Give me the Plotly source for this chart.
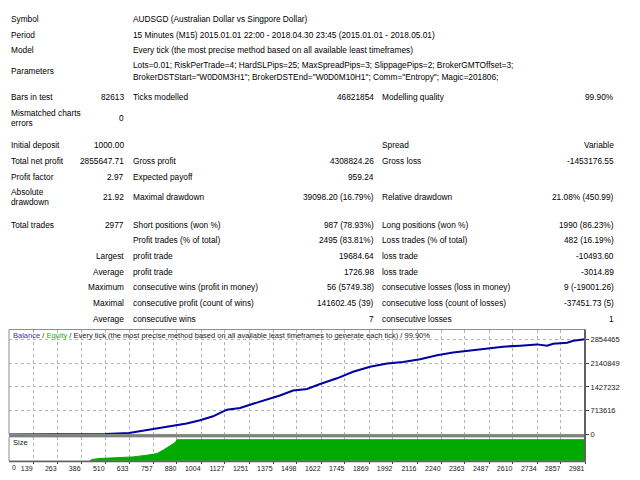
import plotly.graph_objects as go

# ---------------- data ----------------
symbol_text = "AUDSGD (Australian Dollar vs Singpore Dollar)"
period_text = "15 Minutes (M15) 2015.01.01 22:00 - 2018.04.30 23:45 (2015.01.01 - 2018.05.01)"
model_text = "Every tick (the most precise method based on all available least timeframes)"
param_line1 = "Lots=0.01; RiskPerTrade=4; HardSLPips=25; MaxSpreadPips=3; SlippagePips=2; BrokerGMTOffset=3;"
param_line2 = 'BrokerDSTStart="W0D0M3H1"; BrokerDSTEnd="W0D0M10H1"; Comm="Entropy"; Magic=201806;'

col0_labels = ["Bars in test", "", "Initial deposit", "Total net profit", "Profit factor", "",
               "Total trades", "", "Largest", "Average", "Maximum", "Maximal", "Average"]
col1_values = ["82613", "0", "1000.00", "2855647.71", "2.97", "21.92",
               "2977", "", "", "", "", "", ""]
col2_labels = ["Ticks modelled", "", "", "Gross profit", "Expected payoff", "Maximal drawdown",
               "Short positions (won %)", "Profit trades (% of total)", "profit trade", "profit trade",
               "consecutive wins (profit in money)", "consecutive profit (count of wins)", "consecutive wins"]
col2_values = ["46821854", "", "", "4308824.26", "959.24", "39098.20 (16.79%)",
               "987 (78.93%)", "2495 (83.81%)", "19684.64", "1726.98",
               "56 (5749.38)", "141602.45 (39)", "7"]
col3_labels = ["Modelling quality", "", "Spread", "Gross loss", "", "Relative drawdown",
               "Long positions (won %)", "Loss trades (% of total)", "loss trade", "loss trade",
               "consecutive losses (loss in money)", "consecutive loss (count of losses)", "consecutive losses"]
col3_values = ["99.90%", "", "Variable", "-1453176.55", "", "21.08% (450.99)",
               "1990 (86.23%)", "482 (16.19%)", "-10493.60", "-3014.89",
               "9 (-19001.26)", "-37451.73 (5)", "1"]

# balance curve (trade number, balance)
bal_trades = [15, 300, 510, 633, 741, 793, 860, 930, 999, 1066, 1137, 1205, 1272, 1343, 1410,
              1478, 1550, 1617, 1704, 1787, 1874, 1962, 2044, 2132, 2219, 2302, 2390, 2477,
              2559, 2647, 2734, 2786, 2817, 2889, 2921, 2981]
bal_values = [1000, 4000, 15000, 45000, 148670, 178404, 246792, 327074, 425196, 544132, 743350,
              793898, 921754, 1040690, 1168546, 1317216, 1367764, 1516434, 1685918, 1882162,
              2030832, 2131928, 2179502, 2259784, 2378720, 2459002, 2527390, 2577938, 2637406,
              2667140, 2705794, 2667140, 2726608, 2756342, 2815810, 2856648]

# position size (trade number, lots)
size_trades = [430, 442, 484, 586, 654, 725, 777, 808, 844, 870, 880, 2981]
size_lots = [0.5, 3.9, 6.2, 7.6, 9.9, 13.8, 17.7, 25.3, 34.6, 43.1, 50, 50]

x_tick_labels = ["0", "139", "263", "386", "510", "633", "757", "880", "1004", "1127", "1251",
                 "1375", "1498", "1622", "1745", "1869", "1992", "2116", "2240", "2363", "2487",
                 "2610", "2734", "2857", "2981"]
y_tick_values = [0, 713616, 1427232, 2140849, 2854465]

# ---------------- layout helpers ----------------
W, H = 640, 480
def X(px): return px / W
def Y(py): return 1 - py / H

FONT = "Liberation Sans, Arial, sans-serif"
FS = 8.3
TXT = "#000000"
SMALL = 7.5
TICK = 7.0

annotations = []
def txt(px, py, s, anchor="left", size=FS, color=TXT):
    annotations.append(dict(x=X(px), y=Y(py), xref="paper", yref="paper", text=s,
                            showarrow=False, xanchor=anchor, yanchor="middle",
                            font=dict(family=FONT, size=size, color=color)))

# header block
txt(9, 19.5, "Symbol"); txt(131, 19.5, symbol_text)
txt(9, 35, "Period"); txt(131, 35, period_text)
txt(9, 51, "Model"); txt(131, 51, model_text)
txt(9, 72, "Parameters"); txt(131, 66, param_line1); txt(131, 77.5, param_line2)
txt(9, 114, "Mismatched charts"); txt(9, 124.5, "errors")
txt(9, 194, "Absolute"); txt(9, 204.5, "drawdown")

row_y = [98, 119, 147, 163, 178.5, 199.5, 227, 242.5, 258.5, 274.5, 290.5, 306.5, 322.5]
for i, yy in enumerate(row_y):
    lab = col0_labels[i]
    if lab:
        if lab in ("Largest", "Average", "Maximum", "Maximal"):
            txt(126, yy, lab, "right")
        else:
            txt(9, yy, lab)
    if col1_values[i]:
        txt(126, yy, col1_values[i], "right")
    if col2_labels[i]:
        txt(131, yy, col2_labels[i])
    if col2_values[i]:
        txt(375.5, yy, col2_values[i], "right")
    if col3_labels[i]:
        txt(380, yy, col3_labels[i])
    if col3_values[i]:
        txt(616, yy, col3_values[i], "right")

# chart captions
txt(11, 339, "<span style='color:#3535B5'>Balance</span> / <span style='color:#22B022'>Equity</span>"
             " / Every tick (the most precise method based on all available least timeframes to generate each tick) / 99.90%",
    size=SMALL, color="#202020")
txt(11, 447.5, "Size", size=SMALL, color="#202020")
txt(10, 472, x_tick_labels[0], size=TICK, color="#202020")

# ---------------- figure ----------------
fig = go.Figure()
fig.add_trace(go.Scatter(x=bal_trades, y=bal_values, mode="lines", xaxis="x", yaxis="y",
                         line=dict(color="#0000A0", width=2), hoverinfo="skip"))
fig.add_trace(go.Scatter(x=size_trades, y=size_lots, mode="lines", xaxis="x2", yaxis="y2",
                         fill="tozeroy", fillcolor="#00AA00",
                         line=dict(color="#00AA00", width=1), hoverinfo="skip"))

x_tick_vals = [float(v) for v in x_tick_labels[1:]]
x_range = [15.1, 2981]
grid = dict(showgrid=True, griddash="dot", gridcolor="#B4B4B4", gridwidth=1)

shapes = [
    dict(type="rect", xref="paper", yref="paper", x0=X(9), x1=X(585), y0=Y(439), y1=Y(333),
         line=dict(color="#8C8C8C", width=1)),
    dict(type="rect", xref="paper", yref="paper", x0=X(9), x1=X(585), y0=Y(466), y1=Y(441.5),
         line=dict(color="#8C8C8C", width=1)),
    dict(type="rect", xref="paper", yref="paper", x0=X(9), x1=X(585), y0=Y(441.7), y1=Y(439.3),
         fillcolor="#808080", line=dict(width=0)),
    dict(type="line", xref="paper", yref="paper", x0=X(585), x1=X(585), y0=Y(466.5), y1=Y(333),
         line=dict(color="#606060", width=2)),
    dict(type="line", xref="paper", yref="paper", x0=X(9), x1=X(585.5), y0=Y(466.3), y1=Y(466.3),
         line=dict(color="#606060", width=1.5)),
]

fig.update_layout(
    width=W, height=H, margin=dict(l=0, r=0, t=0, b=0),
    paper_bgcolor="white", plot_bgcolor="white", showlegend=False,
    font=dict(family=FONT, size=FS, color=TXT),
    xaxis=dict(domain=[X(9), X(585)], range=x_range, anchor="y", tickvals=x_tick_vals,
               showticklabels=False, ticks="", zeroline=False, showline=False, **grid),
    yaxis=dict(domain=[Y(439), Y(333)], range=[0, 3152000], anchor="x", side="right",
               tickvals=y_tick_values, ticktext=[str(v) for v in y_tick_values],
               ticks="outside", ticklen=3, tickcolor="#404040",
               tickfont=dict(family=FONT, size=SMALL, color="#202020"),
               zeroline=False, showline=False, **grid),
    xaxis2=dict(domain=[X(9), X(585)], range=x_range, anchor="y2", tickvals=x_tick_vals,
                ticktext=x_tick_labels[1:], ticks="outside", ticklen=2, tickcolor="#404040",
                ticklabelposition="outside left", tickangle=0,
                tickfont=dict(family=FONT, size=TICK, color="#202020"),
                zeroline=False, showline=False, **grid),
    yaxis2=dict(domain=[Y(466), Y(441.7)], range=[0, 56], anchor="x2", showticklabels=False,
                showgrid=False, zeroline=False, showline=False, ticks=""),
    annotations=annotations, shapes=shapes,
)

post = "document.body.style.margin='0';document.body.style.overflow='hidden';"
fig.write_html("out.html", config={"displayModeBar": False}, post_script=post)
